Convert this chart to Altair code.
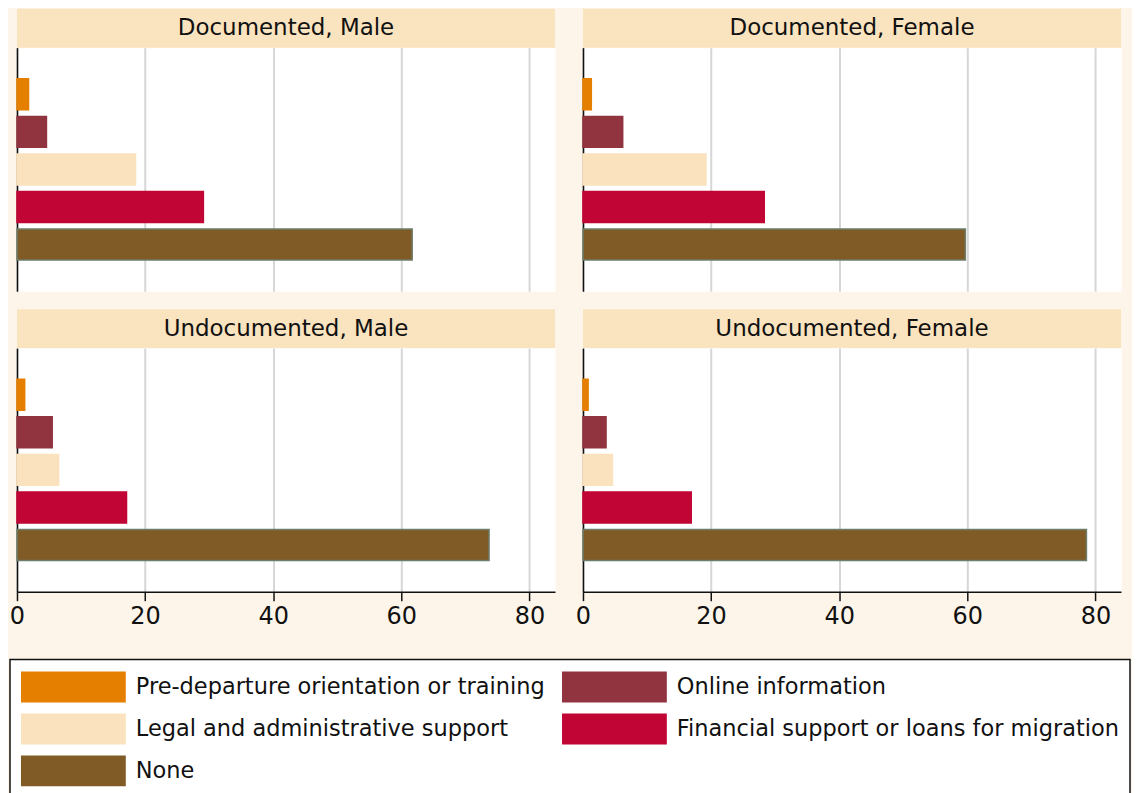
import altair as alt
import pandas as pd

# ---- data ----
categories = [
    "Pre-departure orientation or training",
    "Online information",
    "Legal and administrative support",
    "Financial support or loans for migration",
    "None",
]
panels = ["Documented, Male", "Documented, Female", "Undocumented, Male", "Undocumented, Female"]
documented_male = [1.8, 4.6, 18.5, 29.1, 61.7]
documented_female = [1.3, 6.2, 19.2, 28.3, 59.7]
undocumented_male = [1.2, 5.5, 6.5, 17.1, 73.7]
undocumented_female = [0.8, 3.6, 4.6, 16.9, 78.6]
x_ticks = [0, 20, 40, 60, 80]

# ---- styles ----
colors = ["#e57f00", "#91343f", "#f9e2bd", "#c10534", "#805b26"]
strokes = ["#e57f00", "#91343f", "#f9e2bd", "#c10534", "#6d7d6b"]
FONT = "DejaVu Sans"
TEXT = "#111111"
PEACH = "#fae3bf"
CREAM = "#fdf5e9"
PW, PH, HH = 539, 244, 39


def panel(name, values, bottom):
    df = pd.DataFrame({"panel": name, "category": categories, "value": values})
    base = alt.Chart(df)
    bars = base.mark_bar(strokeWidth=1.5).encode(
        x=alt.X(
            "value:Q",
            scale=alt.Scale(domain=[0, 84], nice=False, zero=True),
            axis=alt.Axis(
                values=x_ticks, title=None, grid=True, gridColor="#d6d6d6", gridWidth=2,
                domain=bottom, domainColor=TEXT, domainWidth=1.5,
                ticks=bottom, tickSize=9, tickColor=TEXT, tickWidth=1.5,
                labels=bottom, labelFont=FONT, labelFontSize=24, labelColor=TEXT,
                labelPadding=4, labelFlush=False,
            ),
        ),
        y=alt.Y(
            "category:N", sort=categories,
            scale=alt.Scale(paddingInner=0.176, paddingOuter=0.83),
            axis=alt.Axis(title=None, labels=False, ticks=False, grid=False,
                          domainColor=TEXT, domainWidth=1.5),
        ),
        color=alt.Color("category:N", scale=alt.Scale(domain=categories, range=colors), legend=None),
        stroke=alt.Stroke("category:N", scale=alt.Scale(domain=categories, range=strokes), legend=None),
    )
    head_data = base.transform_filter(alt.datum.category == "None")
    head_rect = head_data.mark_rect(fill=PEACH).encode(
        x=alt.value(0), x2=alt.value(PW), y=alt.value(-HH), y2=alt.value(0)
    )
    head_text = head_data.mark_text(font=FONT, fontSize=23, color=TEXT, baseline="middle", align="center").encode(
        text="panel:N", x=alt.value(PW / 2), y=alt.value(-HH / 2)
    )
    return alt.layer(bars, head_rect, head_text).properties(
        width=PW, height=PH, view=alt.ViewBackground(fill="white", stroke="transparent")
    )


p1 = panel(panels[0], documented_male, False)
p2 = panel(panels[1], documented_female, False)
p3 = panel(panels[2], undocumented_male, True)
p4 = panel(panels[3], undocumented_female, True)

# ---- legend drawn as its own chart ----
leg_df = pd.DataFrame({"category": categories, "idx": list(range(len(categories)))})
leg_base = alt.Chart(leg_df).transform_calculate(col="datum.idx % 2", row="floor(datum.idx / 2)")
xs = alt.X("col:O", scale=alt.Scale(range=[4, 651], paddingInner=0.8063, paddingOuter=0), axis=None)
ys = alt.Y("row:O", scale=alt.Scale(range=[12, 127], paddingInner=0.2619, paddingOuter=0), axis=None)
box = alt.Chart(pd.DataFrame({"a": [0]})).mark_rect(fill="white", stroke=TEXT, strokeWidth=1.5).encode(
    x=alt.value(-7), x2=alt.value(1115), y=alt.value(0), y2=alt.value(150)
)
swatches = leg_base.mark_rect().encode(
    x=xs, y=ys,
    color=alt.Color("category:N", scale=alt.Scale(domain=categories, range=colors), legend=None),
)
labels = leg_base.mark_text(align="left", baseline="middle", dx=62.5, font=FONT, fontSize=22.5, color=TEXT).encode(
    x=xs, y=ys, text="category:N"
)
legend = alt.layer(box, swatches, labels).properties(
    width=1100, height=134, view=alt.ViewBackground(fill="transparent", stroke="transparent")
)

row1 = alt.hconcat(p1, p2, spacing=28, bounds="flush")
row2 = alt.hconcat(p3, p4, spacing=28, bounds="flush")
grid = alt.vconcat(row1, row2, spacing=16)

chart = alt.vconcat(grid, legend, spacing=28).properties(
    background=CREAM, padding={"left": 0, "top": -1, "right": 0, "bottom": 0}
).configure_view(stroke="transparent")

chart.save("out.html", embed_options={"renderer": "svg", "actions": False})
